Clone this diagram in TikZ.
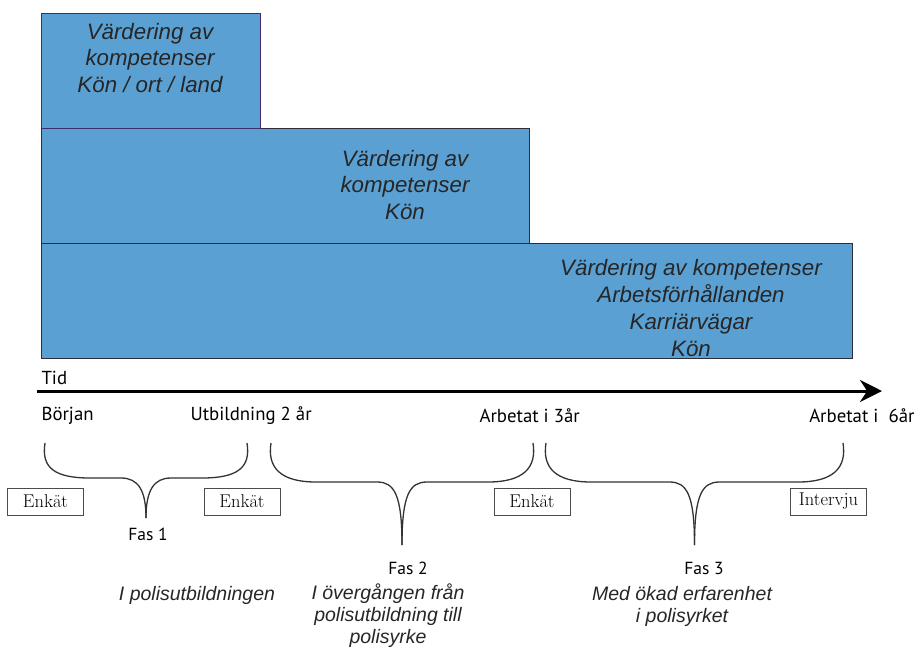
\documentclass[tikz,border=0pt]{standalone}
\usepackage{fontspec}
\newfontfamily\boxfont{Liberation Sans}
\newfontfamily\labelfont{PT Sans}
\usetikzlibrary{arrows.meta}
\definecolor{stageblue}{RGB}{91,160,211}
\definecolor{stageedge}{RGB}{45,45,55}
\definecolor{stagepurple}{RGB}{60,45,110}
\tikzset{
  stage/.style={draw=stageedge,fill=stageblue,line width=1.3pt,anchor=north west,inner sep=0pt,minimum height=115pt},
  stagetext/.style={font=\boxfont\itshape\fontsize{22.3}{26.8}\selectfont,align=center,text=black!85},
  timelabel/.style={font=\labelfont\fontsize{18.8}{21}\selectfont,anchor=west},
  method/.style={draw=black!70,line width=0.9pt,minimum width=76pt,minimum height=27pt,inner sep=0pt,font=\fontsize{18.5}{20}\selectfont},
  phase/.style={font=\labelfont\fontsize{17.5}{20}\selectfont},
  outcome/.style={font=\boxfont\itshape\fontsize{19.5}{22}\selectfont,align=center,text=black!85},
  curly/.style={line width=1.3pt,draw=black!80}
}
\begin{document}
\begin{tikzpicture}[x=1pt,y=-1pt]
  \useasboundingbox (0,0) rectangle (916,649);
  \node[stage,minimum width=811pt] (s3) at (41,243) {};
  \node[stage,minimum width=488pt] (s2) at (41,128) {};
  \node[stage,draw=stagepurple,minimum width=219pt] (s1) at (41,13) {};
  \node[stagetext] (t1) at (150,58) {Värdering av\\kompetenser\\Kön / ort / land};
  \node[stagetext] (t2) at (405,185) {Värdering av\\kompetenser\\Kön};
  \node[stagetext] (t3) at (691,308) {Värdering av kompetenser\\Arbetsförhållanden\\Karriärvägar\\Kön};

  \coordinate (a0) at (37,391);
  \coordinate (a1) at (882,391);
  \draw[line width=3pt,-{Stealth[length=22pt,width=22pt]}] (a0) -- (a1);
  \node[timelabel] (tid) at (38,378) {Tid};
  \node[timelabel] (p0) at (38,416) {Början};
  \node[timelabel] (p1) at (187,416) {Utbildning 2 år};
  \node[timelabel] (p2) at (476,416) {Arbetat i 3år};
  \node[timelabel,anchor=east] (p3) at (918,416) {Arbetat i~ 6år};

  \foreach \l/\r/\h/\t in {45/247/478/518,271/533/482/545,546/843/482/545}{
    \pgfmathsetmacro{\m}{(\l+\r)/2}
    \draw[curly] (\l,443) .. controls (\l-4,468) and (\l+10,\h) .. (\l+45,\h) -- (\m-25,\h)
      .. controls (\m-8,\h) and (\m,\h+12) .. (\m,\t);
    \draw[curly] (\r,443) .. controls (\r+4,468) and (\r-10,\h) .. (\r-45,\h) -- (\m+25,\h)
      .. controls (\m+8,\h) and (\m,\h+12) .. (\m,\t);
  }

  \node[method] (m1) at (45.5,501.5) {Enkät};
  \node[method] (m2) at (242,501.5) {Enkät};
  \node[method] (m3) at (532,501.5) {Enkät};
  \node[method] (m4) at (828.5,501.5) {Intervju};

  \node[phase] (f1) at (148,534) {Fas 1};
  \node[phase] (f2) at (408,568) {Fas 2};
  \node[phase] (f3) at (704,568) {Fas 3};

  \node[outcome] (o1) at (197,595) {I polisutbildningen};
  \node[outcome] (o2) at (388,616) {I övergången från\\polisutbildning till\\polisyrke};
  \node[outcome] (o3) at (682,606) {Med ökad erfarenhet\\i polisyrket};
\end{tikzpicture}
\end{document}
